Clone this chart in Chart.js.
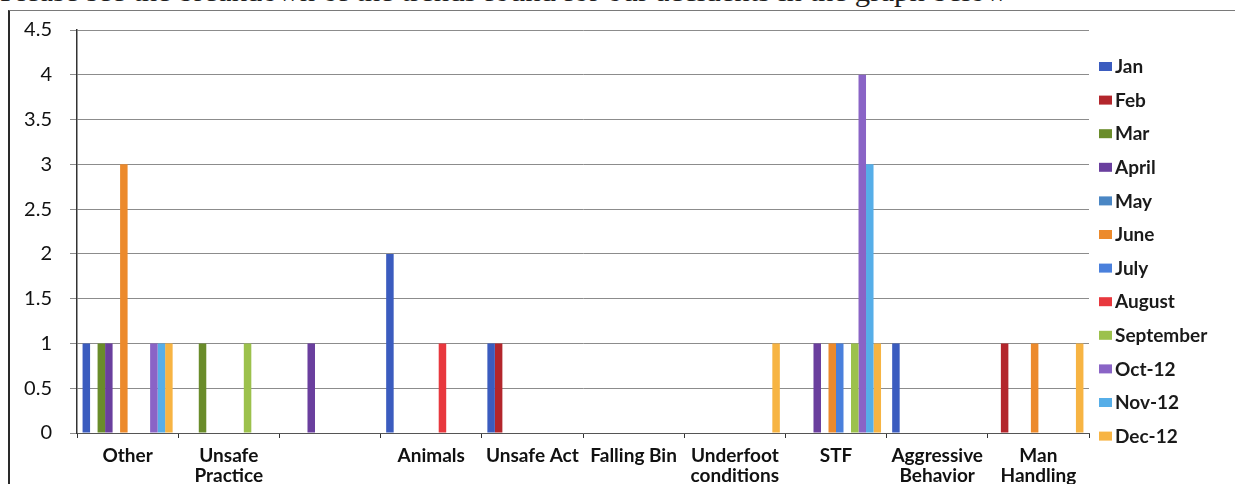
<!DOCTYPE html>
<html>
<head>
<meta charset="utf-8">
<script src="https://cdn.jsdelivr.net/npm/chart.js@4.4.1/dist/chart.umd.min.js"></script>
<style>
  html, body { margin: 0; padding: 0; background: #fff; }
  #wrap { position: relative; width: 1235px; height: 484px; overflow: hidden; }
  #heading {
    position: absolute; left: 0; top: -21px;
    font-family: "Liberation Serif", "DejaVu Serif", serif;
    font-size: 27px; line-height: 1; white-space: nowrap; color: #1e1e1e;
    transform-origin: 0 0;
  }
  #frame {
    position: absolute; left: 8px; top: 10px; right: -4px; bottom: -4px;
    border-left: 2px solid #2a2a2a; border-top: 1px solid #7a7a7a;
    pointer-events: none;
  }
  canvas { position: absolute; left: 0; top: 0; }
</style>
</head>
<body>
<div id="wrap">
  <div id="heading">Please see the breakdown of the trends found for our accidents in the graph below</div>
  <canvas id="chart" width="1235" height="484"></canvas>
  <div id="frame"></div>
</div>
<script>
// Accident causes (x categories)
const categories = ['Other', ['Unsafe', 'Practice'], '', 'Animals', 'Unsafe Act', 'Falling Bin',
  ['Underfoot', 'conditions'], 'STF', ['Aggressive', 'Behavior'], ['Man', 'Handling']];

// Months (series names)
const months = ['Jan', 'Feb', 'Mar', 'April', 'May', 'June', 'July', 'August',
  'September', 'Oct-12', 'Nov-12', 'Dec-12'];

// Accident counts per cause, one array per month
const jan = [1, 0, 0, 2, 1, 0, 0, 0, 1, 0];
const feb = [0, 0, 0, 0, 1, 0, 0, 0, 0, 1];
const mar = [1, 1, 0, 0, 0, 0, 0, 0, 0, 0];
const april = [1, 0, 1, 0, 0, 0, 0, 1, 0, 0];
const may = [0, 0, 0, 0, 0, 0, 0, 0, 0, 0];
const june = [3, 0, 0, 0, 0, 0, 0, 1, 0, 1];
const july = [0, 0, 0, 0, 0, 0, 0, 1, 0, 0];
const august = [0, 0, 0, 1, 0, 0, 0, 0, 0, 0];
const september = [0, 1, 0, 0, 0, 0, 0, 1, 0, 0];
const oct12 = [1, 0, 0, 0, 0, 0, 0, 4, 0, 0];
const nov12 = [1, 0, 0, 0, 0, 0, 0, 3, 0, 0];
const dec12 = [1, 0, 0, 0, 0, 0, 1, 1, 0, 1];

// Value axis ticks
const yTicks = [0, 0.5, 1, 1.5, 2, 2.5, 3, 3.5, 4, 4.5];

const monthSeries = [jan, feb, mar, april, may, june, july, august, september, oct12, nov12, dec12];
const monthColors = ['#3b5cbf', '#b3262c', '#6a8c2a', '#6a3f9e', '#4a86c4', '#ec8a2c',
  '#4a80dc', '#e8383e', '#9cc14c', '#8a64c6', '#56aee8', '#f7b443'];

// Stretch the heading line to its set width
const heading = document.getElementById('heading');
heading.style.transform = 'scaleX(' + (1008 / heading.offsetWidth) + ')';

// Month key drawn down the right side from the chart's own datasets
const monthKey = {
  id: 'monthKey',
  afterDraw(chart) {
    const ctx = chart.ctx;
    const left = chart.chartArea.right + 10;
    ctx.save();
    ctx.font = 'bold 19px Lato';
    ctx.textBaseline = 'middle';
    ctx.textAlign = 'left';
    chart.data.datasets.forEach((ds, i) => {
      const y = 66.5 + i * 33.6;
      ctx.fillStyle = ds.backgroundColor;
      ctx.fillRect(left, y - 4.5, 13, 9);
      ctx.fillStyle = '#1a1a1a';
      ctx.fillText(ds.label, left + 16, y + 0.5);
    });
    ctx.restore();
  }
};

new Chart(document.getElementById('chart'), {
  type: 'bar',
  data: {
    labels: categories,
    datasets: months.map((m, i) => ({
      label: m,
      data: monthSeries[i],
      backgroundColor: monthColors[i],
      borderWidth: 0,
      categoryPercentage: 0.89,
      barPercentage: 1.0
    }))
  },
  options: {
    responsive: false,
    animation: false,
    layout: { padding: { top: 28, right: 146, left: 0, bottom: 0 } },
    plugins: { legend: { display: false }, tooltip: { enabled: false } },
    scales: {
      x: {
        grid: { drawOnChartArea: false, drawTicks: true, tickLength: 5, color: '#333', offset: true },
        border: { display: true, color: '#555', width: 1 },
        ticks: {
          color: '#111', padding: 8, maxRotation: 0, autoSkip: false,
          font: { family: 'Lato', size: 19, weight: 'bold', lineHeight: 1.05 }
        },
        afterFit(s) { s.height = 51; }
      },
      y: {
        min: 0, max: 4.5,
        afterBuildTicks(s) { s.ticks = yTicks.map(v => ({ value: v })); },
        ticks: {
          color: '#111', padding: 18,
          font: { family: 'Lato', size: 20 },
          callback: v => String(v)
        },
        grid: { color: '#8c8c8c', lineWidth: 1, tickLength: 7, drawTicks: true },
        border: { display: true, color: '#333', width: 1.5 },
        afterFit(s) { s.width = 77; }
      }
    }
  },
  plugins: [monthKey]
});
</script>
</body>
</html>
